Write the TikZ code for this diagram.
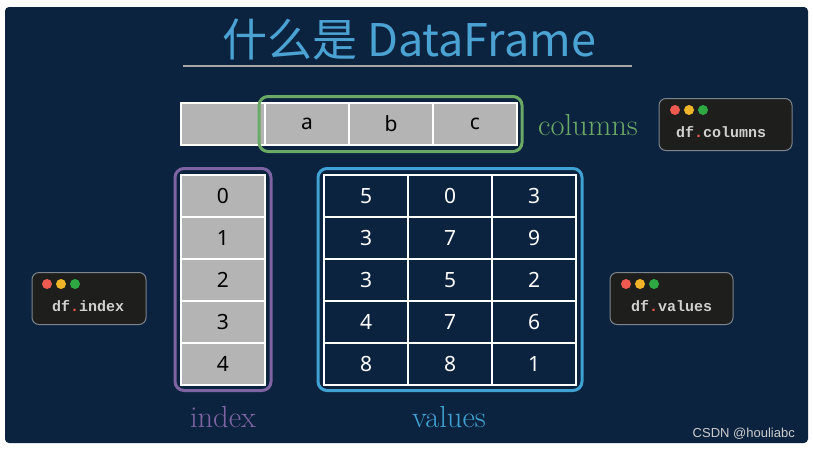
\documentclass[tikz,border=0pt]{standalone}
\usepackage{fontspec}
\newfontfamily\cjk{Noto Sans CJK SC}
\newfontfamily\cellfont{Noto Sans}
\newfontfamily\codefont{Liberation Mono}
\newfontfamily\wmfont{Liberation Sans}
\definecolor{bg}{HTML}{0C2340}
\definecolor{titleblue}{HTML}{4AA3D3}
\definecolor{colgreen}{HTML}{6AAA64}
\definecolor{idxpurple}{HTML}{7E64A2}
\definecolor{valblue}{HTML}{3FA2D2}
\definecolor{cellgray}{HTML}{B4B4B4}
\definecolor{codebg}{HTML}{1E1F1C}
\definecolor{codeborder}{HTML}{7C848C}
\definecolor{codetext}{HTML}{D0D0D0}
\definecolor{dotred}{HTML}{EE5A50}
\definecolor{dotyellow}{HTML}{F0B428}
\definecolor{dotgreen}{HTML}{2FA844}
\tikzset{
  gcell/.style={draw=white, line width=2pt, fill=cellgray, minimum width=84pt, minimum height=42pt, inner sep=0pt, text=black, font=\cellfont\fontsize{21}{24}\selectfont},
  vcell/.style={draw=white, line width=2pt, fill=bg, minimum width=84pt, minimum height=42pt, inner sep=0pt, text=white, font=\cellfont\fontsize{21}{24}\selectfont},
  groupbox/.style={line width=3pt, rounded corners=9pt, inner sep=0pt},
  codebox/.style={draw=codeborder, line width=1pt, fill=codebg, rounded corners=7pt, inner sep=0pt},
  codetxt/.style={text=codetext, font=\codefont\bfseries\fontsize{15}{18}\selectfont, inner sep=0pt, anchor=base west},
  wdot/.style={circle, inner sep=0pt, minimum size=10pt},
  lbl/.style={font=\fontsize{30.5}{34}\selectfont, inner sep=0pt, anchor=base}
}
\newcommand{\rdot}{{\color{dotred}.}}
\begin{document}
\begin{tikzpicture}[x=1pt,y=-1pt]
\useasboundingbox (0,0) rectangle (813,448);
\fill[white] (0,0) rectangle (813,448);
\fill[bg, rounded corners=4pt] (5,7) rectangle (808,443);
% title
\node[text=titleblue, font=\cjk\fontsize{45}{50}\selectfont, inner sep=0pt, anchor=base] (title) at (409,56) {什么是 DataFrame};
\coordinate (ulA) at (183,66);
\coordinate (ulB) at (632,66);
\draw[color=gray!70!white, line width=2pt] (ulA) -- (ulB);
% header row
\node[gcell] (h0) at (223,124) {};
\node[gcell] (ha) at (307,124) {a};
\node[gcell] (hb) at (391,124) {b};
\node[gcell] (hc) at (475,124) {c};
\node[groupbox, draw=colgreen, minimum width=263pt, minimum height=55pt] (colbox) at (390.5,124) {};
\node[lbl, text=colgreen, anchor=base west] (collbl) at (538,135) {columns};
% index column
\foreach \i/\v in {0/0,1/1,2/2,3/3,4/4}{
  \node[gcell] (i\i) at (223,196+42*\i) {\v};
}
\node[groupbox, draw=idxpurple, minimum width=96pt, minimum height=222pt] (idxbox) at (223,279.5) {};
\node[lbl, text=idxpurple] (idxlbl) at (223,427) {index};
% values
\foreach \r/\a/\b/\c in {0/5/0/3,1/3/7/9,2/3/5/2,3/4/7/6,4/8/8/1}{
  \node[vcell] (v\r a) at (366,196+42*\r) {\a};
  \node[vcell] (v\r b) at (450,196+42*\r) {\b};
  \node[vcell] (v\r c) at (534,196+42*\r) {\c};
}
\node[groupbox, draw=valblue, minimum width=264pt, minimum height=222pt] (valbox) at (450,279.5) {};
\node[lbl, text=valblue] (vallbl) at (449,427) {values};
% code boxes
\node[codebox, minimum width=133pt, minimum height=52pt] (cb1) at (725.5,124.5) {};
\node[wdot, fill=dotred] (cb1r) at (675,110) {};
\node[wdot, fill=dotyellow] (cb1y) at (689,110) {};
\node[wdot, fill=dotgreen] (cb1g) at (703,110) {};
\node[codetxt] (cb1t) at (676,137) {df\rdot columns};
\node[codebox, minimum width=114pt, minimum height=52pt] (cb2) at (89,298.5) {};
\node[wdot, fill=dotred] (cb2r) at (47,284) {};
\node[wdot, fill=dotyellow] (cb2y) at (61,284) {};
\node[wdot, fill=dotgreen] (cb2g) at (75,284) {};
\node[codetxt] (cb2t) at (52,311) {df\rdot index};
\node[codebox, minimum width=123pt, minimum height=52pt] (cb3) at (671.5,298.5) {};
\node[wdot, fill=dotred] (cb3r) at (626,284) {};
\node[wdot, fill=dotyellow] (cb3y) at (640,284) {};
\node[wdot, fill=dotgreen] (cb3g) at (654,284) {};
\node[codetxt] (cb3t) at (631,311) {df\rdot values};
% credit
\node[text=gray!40!white, font=\wmfont\fontsize{13}{15}\selectfont, inner sep=0pt, anchor=base east] (credit) at (795,437) {CSDN @houliabc};
\end{tikzpicture}
\end{document}
